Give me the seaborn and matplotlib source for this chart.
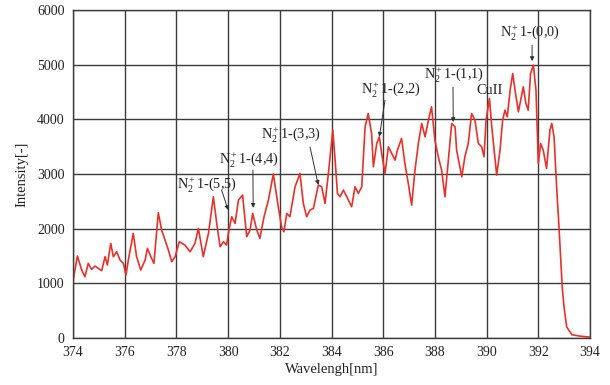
import matplotlib
matplotlib.use("Agg")
import matplotlib.pyplot as plt
import seaborn as sns
import pandas as pd
import numpy as np

# ---- data ----
wavelength = [374.01, 374.17, 374.34, 374.46, 374.59, 374.72, 374.85, 374.98, 375.11, 375.24,
              375.33, 375.46, 375.56, 375.69, 375.82, 375.95, 376.05, 376.14, 376.33, 376.46,
              376.62, 376.79, 376.88, 377.04, 377.13, 377.30, 377.43, 377.56, 377.69, 377.82,
              377.95, 378.11, 378.33, 378.53, 378.72, 378.85, 379.04, 379.24, 379.43, 379.56,
              379.69, 379.82, 379.94, 380.01, 380.14, 380.27, 380.40, 380.56, 380.72, 380.85,
              380.95, 381.11, 381.23, 381.39, 381.56, 381.75, 381.94, 382.07, 382.16, 382.27,
              382.39, 382.59, 382.78, 382.91, 383.04, 383.17, 383.30, 383.49, 383.62, 383.75,
              383.88, 384.05, 384.14, 384.23, 384.33, 384.46, 384.59, 384.78, 384.91, 385.04,
              385.17, 385.30, 385.42, 385.55, 385.62, 385.75, 385.85, 385.94, 386.07, 386.20,
              386.33, 386.46, 386.55, 386.71, 386.84, 386.97, 387.10, 387.23, 387.36, 387.49,
              387.62, 387.75, 387.87, 388.00, 388.13, 388.26, 388.39, 388.52, 388.65, 388.78,
              388.84, 388.94, 389.04, 389.16, 389.29, 389.42, 389.55, 389.68, 389.81, 389.90,
              389.98, 390.11, 390.20, 390.29, 390.39, 390.52, 390.62, 390.71, 390.80, 390.91,
              391.01, 391.10, 391.23, 391.32, 391.42, 391.52, 391.61, 391.70, 391.81, 391.91,
              392.00, 392.09, 392.19, 392.32, 392.45, 392.52, 392.61, 392.71, 392.78, 392.86,
              392.93, 393.00, 393.10, 393.30, 393.60, 394.00]
intensity = [1070, 1500, 1240, 1120, 1365, 1255, 1316, 1274, 1231, 1487,
             1335, 1731, 1487, 1578, 1426, 1365, 1152, 1426, 1914, 1487,
             1243, 1426, 1639, 1457, 1365, 2291, 1974, 1792, 1609, 1396,
             1487, 1761, 1700, 1578, 1731, 2005, 1487, 1914, 2583, 2096,
             1670, 1761, 1700, 1914, 2218, 2096, 2523, 2614, 1853, 1974,
             2279, 1974, 1822, 2218, 2523, 3000, 2401, 2035, 1944, 2279,
             2218, 2766, 3011, 2462, 2218, 2340, 2371, 2797, 2766, 2462,
             3011, 3803, 3254, 2645, 2584, 2706, 2584, 2401, 2766, 2645,
             2766, 3863, 4107, 3742, 3132, 3559, 3680, 3376, 3011, 3497,
             3376, 3254, 3437, 3650, 3193, 2828, 2431, 3071, 3559, 3925,
             3680, 3985, 4229, 3620, 3315, 3071, 2583, 3254, 3925, 3863,
             3437, 3193, 2949, 3315, 3559, 4107, 3985, 3559, 3497, 3315,
             3985, 4382, 3863, 3437, 2980, 3437, 3985, 4168, 4046, 4534,
             4839, 4534, 4137, 4351, 4595, 4290, 4168, 4839, 4991, 4534,
             3193, 3559, 3437, 3102, 3803, 3925, 3680, 2750, 2200, 1500,
             900, 550, 200, 60, 35, 15]

labels = [r"N$_2^+$1-(5,5)", r"N$_2^+$1-(4,4)", r"N$_2^+$1-(3,3)",
          r"N$_2^+$1-(2,2)", r"N$_2^+$1-(1,1)", "CuII", r"N$_2^+$1-(0,0)"]
peak_wl = [380.0, 380.97, 383.49, 385.85, 388.71, None, 391.76]
peak_int = [2340, 2380, 2800, 3680, 3950, None, 5064]

x_ticks = [374, 376, 378, 380, 382, 384, 386, 388, 390, 392, 394]
y_ticks = [0, 1000, 2000, 3000, 4000, 5000, 6000]

# ---- layout (text and arrow-tail positions, in data units) ----
text_pos = [(379.18, 2797), (380.81, 3254), (382.43, 3711), (386.30, 4534),
            (388.74, 4808), (390.13, 4534), (391.68, 5576)]
tail_pos = [(379.75, 2706), (380.96, 3071), (383.17, 3492), (386.07, 4351),
            (388.70, 4589), None, (391.76, 5356)]

sns.set_style("white")
plt.rcParams["font.family"] = ["Liberation Serif", "DejaVu Serif"]
plt.rcParams["mathtext.fontset"] = "custom"
plt.rcParams["mathtext.rm"] = "Liberation Serif"
plt.rcParams["mathtext.it"] = "Liberation Serif:italic"
plt.rcParams["mathtext.bf"] = "Liberation Serif:bold"

fig = plt.figure(figsize=(6.10, 3.85), dpi=100)
ax = fig.add_axes([73 / 610, 1 - 338 / 385, 517 / 610, 328 / 385])

df = pd.DataFrame({"Wavelength": wavelength, "Intensity": intensity})
sns.lineplot(data=df, x="Wavelength", y="Intensity", ax=ax, color="#e8312c",
             linewidth=1.2, sort=False, estimator=None)

ax.set_xlim(374, 394)
ax.set_ylim(0, 6000)
ax.set_xticks(x_ticks)
ax.set_yticks(y_ticks)
ax.grid(True, color="#3c3c3c", linewidth=1.0)
ax.set_axisbelow(True)
for s in ax.spines.values():
    s.set_color("#3c3c3c")
    s.set_linewidth(1.0)
ax.tick_params(axis="both", labelsize=10, length=0, pad=6, colors="#222222")
ax.set_xlabel("Wavelengh[nm]", fontsize=10.5, color="#222222", labelpad=3)
ax.set_ylabel("Intensity[-]", fontsize=10.5, color="#222222", labelpad=6)

for lab, (tx, ty), tail, pw, pi in zip(labels, text_pos, tail_pos, peak_wl, peak_int):
    ax.text(tx, ty, lab, fontsize=10.3, ha="center", va="center", color="#222222")
    if pw is not None:
        ax.annotate("", xy=(pw, pi), xytext=tail,
                    arrowprops=dict(arrowstyle="-|>", color="#333333", lw=0.7,
                                    mutation_scale=6, shrinkA=0, shrinkB=0))

fig.savefig("out.png", dpi=100)
